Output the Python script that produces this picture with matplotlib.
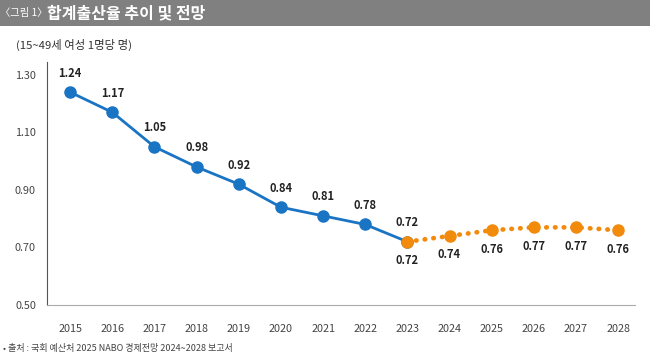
import matplotlib
matplotlib.use("Agg")
import matplotlib.pyplot as plt
from matplotlib.patches import Rectangle

plt.rcParams['font.family'] = ['Noto Sans CJK KR', 'DejaVu Sans']

# 데이터
years = list(range(2015, 2029))
actual_years = list(range(2015, 2024))
actual = [1.24, 1.17, 1.05, 0.98, 0.92, 0.84, 0.81, 0.78, 0.72]
proj_years = list(range(2023, 2029))
proj = [0.72, 0.74, 0.76, 0.77, 0.77, 0.76]
yticks = [0.50, 0.70, 0.90, 1.10, 1.30]

blue = "#1a74c4"
orange = "#f28a0c"

fig = plt.figure(figsize=(6.5, 3.59), dpi=100)

# 제목 바
fig.patches.append(Rectangle((0, 1 - 26 / 359), 1, 26 / 359, transform=fig.transFigure,
                             facecolor="#808080", edgecolor="none"))
fig.text(0.0, 1 - 13 / 359, "〈그림 1〉", color="white", fontsize=7.4, va="center")
fig.text(47 / 650, 1 - 13 / 359, "합계출산율 추이 및 전망", color="white", fontsize=11.5,
         fontweight="bold", va="center")
fig.text(0.025, 1 - 45 / 359, "(15~49세 여성 1명당 명)", color="#333333", fontsize=8.2, va="center")
fig.text(0.004, 1 - 349 / 359, "• 출처 : 국회 예산처 2025 NABO 경제전망 2024~2028 보고서",
         color="#444444", fontsize=6.5, va="center")

ax = fig.add_axes([47 / 650, 54 / 359, 588 / 650, 243 / 359])
ax.plot(actual_years, actual, color=blue, lw=2, marker="o", ms=8, zorder=3)
ax.plot(proj_years, proj, color=orange, lw=3.4, linestyle=(0, (0.1, 1.75)),
        dash_capstyle="round", zorder=2)
ax.plot(proj_years, proj, color=orange, lw=0, marker="o", ms=8, zorder=4)

for x, y in zip(actual_years, actual):
    ax.annotate(f"{y:.2f}", (x, y), xytext=(0, 9), textcoords="offset points",
                ha="center", va="bottom", fontsize=8, fontweight="bold", color="#222222")
for x, y in zip(proj_years, proj):
    ax.annotate(f"{y:.2f}", (x, y), xytext=(0, -9), textcoords="offset points",
                ha="center", va="top", fontsize=8, fontweight="bold", color="#222222")

ax.set_xlim(2014.45, 2028.4)
ax.set_ylim(0.5, 1.345)
ax.set_xticks(years)
ax.set_yticks(yticks)
ax.set_yticklabels([f"{v:.2f}" for v in yticks])
ax.tick_params(length=0, labelsize=7.8, labelcolor="#444444")
ax.tick_params(axis="x", pad=14)
ax.tick_params(axis="y", pad=8)
for s in ["top", "right"]:
    ax.spines[s].set_visible(False)
ax.spines["left"].set_color("#555555")
ax.spines["bottom"].set_color("#aaaaaa")

fig.savefig("out.png", dpi=100)
